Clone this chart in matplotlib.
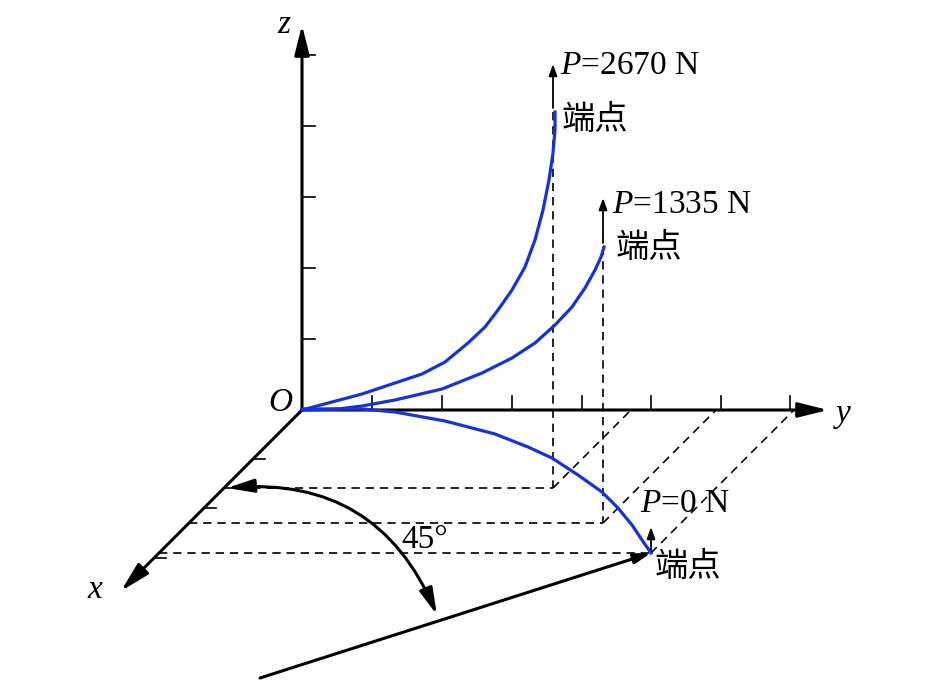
import matplotlib
matplotlib.use("Agg")
import matplotlib.pyplot as plt
from matplotlib.patches import FancyArrowPatch

plt.rcParams['font.family'] = ['Liberation Serif', 'Noto Sans CJK SC']
plt.rcParams['mathtext.fontset'] = 'custom'
plt.rcParams['mathtext.it'] = 'Liberation Serif:italic'
plt.rcParams['mathtext.rm'] = 'Liberation Serif'

# picture coordinates (pixels, y down)
origin = (302, 410)
z_ticks = [55, 126, 197, 268, 339]
y_ticks = [372, 442, 512, 582, 651, 721, 790]
x_ticks = [459, 508, 558]

# deflection curves
curve_2670_x = [302, 332, 362, 395, 422, 445, 468, 485, 498, 512, 525, 535, 543, 549, 553, 555, 555]
curve_2670_y = [410, 402, 394, 383, 374, 362, 343, 327, 310, 290, 267, 240, 210, 180, 153, 130, 112]
curve_1335_x = [302, 338, 362, 395, 442, 482, 512, 535, 555, 572, 585, 595, 601, 604]
curve_1335_y = [410, 409, 406, 400, 389, 373, 358, 343, 325, 307, 288, 270, 257, 247]
curve_0_x = [302, 338, 362, 395, 445, 495, 528, 552, 578, 602, 618, 632, 642, 651]
curve_0_y = [409, 409, 409, 412, 421, 434, 447, 458, 475, 492, 508, 525, 540, 553]

loads = ['$P$=2670 N', '$P$=1335 N', '$P$=0 N']
ends_x = [553, 603, 651]
ends_y = [112, 247, 553]
floor_y = [488, 523, 553]

blue = '#1533d6'

fig = plt.figure(figsize=(9.45, 6.83), dpi=100)
ax = fig.add_axes([0, 0, 1, 1])
ax.set_xlim(0, 945)
ax.set_ylim(683, 0)
ax.axis('off')


def arrow(p0, p1, lw, hl, hw, style='-|>', rad=0.0):
    a = FancyArrowPatch(p0, p1, arrowstyle=f'{style},head_length={hl},head_width={hw}',
                        connectionstyle=f'arc3,rad={rad}', color='black', lw=lw,
                        shrinkA=0, shrinkB=0, mutation_scale=1, zorder=3)
    ax.add_patch(a)


# axes
ox, oy = origin
arrow((ox, oy), (ox, 25), 2.2, 18, 4.5)
arrow((ox, oy), (828, oy), 2.2, 18, 4.5)
arrow((ox, oy), (121, 591), 2.2, 18, 4.5)

for t in z_ticks:
    ax.plot([ox, ox + 13], [t, t], color='black', lw=1.2)
for t in y_ticks:
    ax.plot([t, t], [oy, oy - 14], color='black', lw=1.2)
for t in x_ticks:
    xa = ox - (t - oy)
    ax.plot([xa, xa + 12], [t, t], color='black', lw=1.2)

# projection lines
dash = dict(color='black', lw=1.2, linestyle=(0, (5, 3.5)))
for ex, ey, fy in zip(ends_x, ends_y, floor_y):
    ax.plot([ex, ex], [ey, fy], **dash)
    ax.plot([ox - (fy - oy), ex], [fy, fy], **dash)
    ax.plot([ex, ex + (fy - oy)], [fy, oy], **dash)

# curves
ax.plot(curve_2670_x, curve_2670_y, color=blue, lw=2.3, zorder=4, solid_joinstyle='round')
ax.plot(curve_1335_x, curve_1335_y, color=blue, lw=2.3, zorder=4, solid_joinstyle='round')
ax.plot(curve_0_x, curve_0_y, color=blue, lw=2.3, zorder=4, solid_joinstyle='round')

# load arrows
arrow((553, 108), (553, 64), 1.3, 7, 2.5)
arrow((603, 243), (603, 198), 1.3, 7, 2.5)
arrow((651, 551), (651, 527), 1.3, 7, 2.5)

# rotated line and 45 degree arc
arrow((260, 678), (651, 553), 2.2, 10, 3)
arrow((227, 488), (437, 615), 2.2, 16, 4, style='<|-|>', rad=-0.36)

fs = 24
ax.text(560, 66, loads[0], fontsize=fs, va='center', ha='left')
ax.text(562, 120, '端点', fontsize=fs, va='center', ha='left')
ax.text(612, 205, loads[1], fontsize=fs, va='center', ha='left')
ax.text(616, 248, '端点', fontsize=fs, va='center', ha='left')
ax.text(640, 504, loads[2], fontsize=fs, va='center', ha='left')
ax.text(655, 567, '端点', fontsize=fs, va='center', ha='left')
ax.text(425, 540, '45°', fontsize=fs, va='center', ha='center')

ax.text(284, 25, 'z', fontsize=fs, style='italic', va='center', ha='center')
ax.text(280, 403, 'O', fontsize=fs, style='italic', va='center', ha='center')
ax.text(95, 590, 'x', fontsize=fs, style='italic', va='center', ha='center')
ax.text(843, 414, 'y', fontsize=fs, style='italic', va='center', ha='center')

fig.savefig('out.png', dpi=100)
